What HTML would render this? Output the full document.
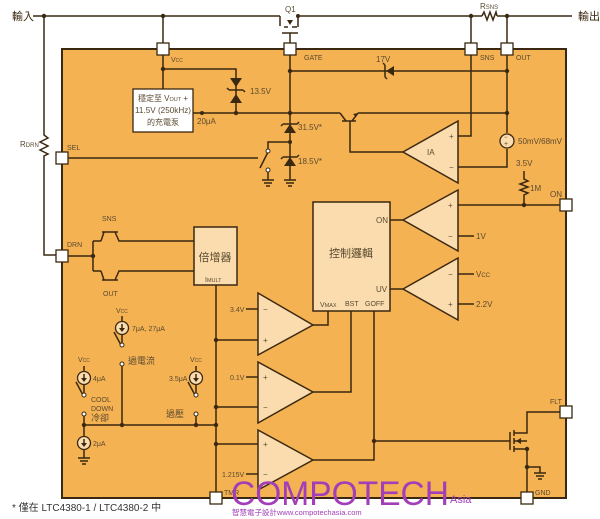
<!DOCTYPE html>
<html><head><meta charset="utf-8"><style>
html,body{margin:0;padding:0;background:#fff}
svg{display:block}
text{font-family:"Liberation Sans","Noto Sans CJK TC",sans-serif;fill:#5a4a30}
.l{stroke:#3a2810;stroke-width:1.5;fill:none}
.d{fill:#3a2810}
.amp{fill:#fbdcae;stroke:#3a2810;stroke-width:1.5}
.pin{fill:#fff;stroke:#3a2810;stroke-width:1.3}
.s{font-size:8px}
.c{font-size:11px;fill:#3a2810}
</style></head><body>
<svg width="600" height="519" viewBox="0 0 600 519" xmlns="http://www.w3.org/2000/svg">
<rect x="62" y="49" width="504" height="449" fill="#f5b252" stroke="#3a2810" stroke-width="2"/>
<text x="12" y="20" class="c">輸入</text>
<text x="578" y="20" class="c">輸出</text>
<path class="l" d="M33 16H280 M300 16H482 M497 16H572"/>
<path class="l" d="M482 16l2-4 3 8 3-8 3 8 3-8 1 4"/>
<text x="480" y="9" class="s">R<tspan font-size="6">SNS</tspan></text>
<circle class="d" cx="44" cy="16" r="2.2"/><circle class="d" cx="163" cy="16" r="2.2"/>
<circle class="d" cx="471" cy="16" r="2.2"/><circle class="d" cx="507" cy="16" r="2.2"/><circle class="d" cx="298" cy="16" r="2"/>
<text x="285" y="12" class="s">Q1</text>
<path class="l" d="M280 16v10 M284 27h4 M292 27h5 M298 16v11 M282 33h16 M290 33v16"/>
<path class="d" d="M287 20h6l-3 5z"/>
<path class="l" d="M44 16V135l4 3-8 4 8 4-8 4 8 4-4 2V255H62"/>
<text x="20" y="147" class="s">R<tspan font-size="6">DRN</tspan></text>
<path class="l" d="M471 16V136H458 M507 16V133 M507 149V167H458"/>
<circle cx="507" cy="141" r="7" fill="#fbdcae" stroke="#3a2810" stroke-width="1.3"/>
<text x="504" y="139" font-size="6">−</text><text x="504" y="146" font-size="7">+</text>
<text x="518" y="144" class="s">50mV/68mV</text>
<path class="l" d="M163 16V89 M163 69H236V113 M193 113H340 M290 49V180 M290 71H507 M358 113H507"/>
<circle class="d" cx="163" cy="69" r="2.2"/><circle class="d" cx="236" cy="113" r="2.2"/><circle class="d" cx="202" cy="113" r="2"/>
<circle class="d" cx="290" cy="71" r="2.2"/><circle class="d" cx="290" cy="113" r="2.2"/><circle class="d" cx="507" cy="71" r="2.2"/><circle class="d" cx="507" cy="113" r="2.2"/>
<path class="d" d="M230 78h12l-6 9z M230 103h12l-6-9z"/><path class="l" d="M229 90h14 M229 90l-2-2 M243 90l2 2"/>
<text x="250" y="94" class="s">13.5V</text>
<path class="d" d="M386 71l8-5v10z"/><path class="l" d="M385 65v12 M385 65l-2-2 M385 77l2 2"/>
<text x="376" y="62" class="s">17V</text>
<rect x="133" y="89" width="60" height="43" fill="#fff" stroke="#3a2810" stroke-width="1.3"/>
<text x="163" y="101" text-anchor="middle" font-size="8" fill="#3a2810">穩定至 V<tspan font-size="5.5">OUT</tspan> +</text>
<text x="163" y="113" text-anchor="middle" font-size="8" fill="#3a2810" textLength="56" lengthAdjust="spacingAndGlyphs">11.5V (250kHz)</text>
<text x="163" y="125" text-anchor="middle" font-size="8" fill="#3a2810">的充電泵</text>
<text x="197" y="124" class="s">20μA</text>
<path class="d" d="M284 133h12l-6-9z M284 166h12l-6-9z"/>
<path class="l" d="M283 124h14 M297 124l2-2 M283 124l-2 2 M283 157h14 M297 157l2-2 M283 157l-2 2"/>
<circle class="d" cx="290" cy="142" r="2"/>
<text x="298" y="130" class="s">31.5V*</text><text x="298" y="164" class="s">18.5V*</text>
<path class="l" d="M284 180h12 M286 183h8 M288 186h4"/>
<path class="l" d="M62 158H258 M290 142H268V150 M268 152l-8 16 M268 172v8 M262 180h12 M264 183h8 M266 186h4"/>
<circle cx="268" cy="151" r="2" fill="#fff" stroke="#3a2810"/><circle cx="268" cy="170" r="2" fill="#fff" stroke="#3a2810"/>
<!-- NPN transistor -->
<path class="l" d="M340 113l6 8 M342 121h14 M350 121v31H403 M352 121l6-8"/>
<path class="d" d="M358 113l-5 1 3 3z"/>
<path class="amp" d="M403 152L458 121V183Z"/>
<text x="427" y="155" class="s">IA</text><text x="449" y="139" class="s">+</text><text x="449" y="170" class="s">−</text>
<text x="516" y="166" class="s">3.5V</text>
<path class="l" d="M524 171v8l4 2-8 3 8 3-8 3 8 3-4 2v10"/>
<text x="530" y="191" class="s">1M</text>
<path class="l" d="M458 205H566 M458 236H474 M458 274H474 M458 304H474"/>
<circle class="d" cx="524" cy="205" r="2.2"/>
<text x="550" y="197" class="s">ON</text>
<text x="476" y="239" class="s">1V</text><text x="476" y="277" class="s">V<tspan font-size="6">CC</tspan></text><text x="476" y="307" class="s">2.2V</text>
<path class="amp" d="M403 220L458 190V251Z"/><path class="amp" d="M403 289L458 258V320Z"/>
<text x="448" y="208" class="s">+</text><text x="448" y="239" class="s">−</text><text x="448" y="277" class="s">−</text><text x="448" y="307" class="s">+</text>
<path class="l" d="M390 220H403 M390 289H403"/>
<rect x="313" y="202" width="77" height="109" fill="#fbdcae" stroke="#3a2810" stroke-width="1.5"/>
<text x="351" y="257" text-anchor="middle" font-size="11" fill="#3a2810">控制邏輯</text>
<text x="376" y="223" class="s">ON</text><text x="376" y="292" class="s">UV</text>
<text x="320" y="307" font-size="7">V<tspan font-size="5.5">MAX</tspan></text><text x="345" y="306" font-size="7">BST</text><text x="365" y="306" font-size="7">GOFF</text>
<path class="l" d="M313 325H328V311 M313 392H351V311 M313 460H374V311 M374 441H510"/>
<circle class="d" cx="374" cy="441" r="2.2"/>
<path class="amp" d="M313 325L258 293V355Z"/><path class="amp" d="M313 392L258 362V423Z"/><path class="amp" d="M313 460L258 430V490Z"/>
<text x="263" y="312" class="s">−</text><text x="263" y="343" class="s">+</text><text x="263" y="380" class="s">+</text><text x="263" y="410" class="s">−</text><text x="263" y="447" class="s">+</text><text x="263" y="477" class="s">−</text>
<path class="l" d="M246 309H258 M246 377H258 M246 474H258 M216 340H258 M216 407H258 M216 444H258"/>
<text x="230" y="312" font-size="7">3.4V</text><text x="230" y="380" font-size="7">0.1V</text><text x="222" y="477" font-size="7">1.215V</text>
<rect x="194" y="227" width="43" height="58" fill="#fbdcae" stroke="#3a2810" stroke-width="1.5"/>
<text x="215" y="261" text-anchor="middle" font-size="11" fill="#3a2810">倍增器</text>
<text x="205" y="282" font-size="7">I<tspan font-size="5.5">MULT</tspan></text>
<path class="l" d="M216 285V498"/>
<circle class="d" cx="216" cy="340" r="2.2"/><circle class="d" cx="216" cy="407" r="2.2"/><circle class="d" cx="216" cy="425" r="2.2"/><circle class="d" cx="216" cy="444" r="2.2"/>
<text x="224" y="495" font-size="7">TMR</text>
<path class="l" d="M62 256H93 M93 241V271 M93 241h8 M93 271h8 M102 232h16 M102 280h16 M101 241l3-9 M115 232l4 9H194 M101 271l3 9 M115 280l4-9H194"/>
<circle class="d" cx="93" cy="256" r="2.2"/>
<text x="102" y="221" font-size="7">SNS</text><text x="103" y="296" font-size="7">OUT</text>
<text x="67" y="247" font-size="7">DRN</text><text x="67" y="150" font-size="7">SEL</text>
<g font-size="7">
<text x="116" y="313">V<tspan font-size="5">CC</tspan></text><text x="78" y="362">V<tspan font-size="5">CC</tspan></text><text x="190" y="362">V<tspan font-size="5">CC</tspan></text>
<text x="132" y="331">7μA, 27μA</text><text x="93" y="381">4μA</text><text x="169" y="381">3.5μA</text><text x="93" y="446">2μA</text>
<text x="91" y="402">COOL</text><text x="91" y="411">DOWN</text>
</g>
<text x="91" y="421" font-size="9" fill="#3a2810">冷卻</text>
<text x="128" y="364" font-size="9" fill="#3a2810">過電流</text>
<text x="166" y="417" font-size="9" fill="#3a2810">過壓</text>
<path class="l" d="M122 316V343 M122 347l-8 -15 M122 366V425 M84 366V393 M84 397l-8-15 M84 416V425 M84 425V458 M196 366V393 M196 397l-8-15 M196 416V425 M84 425H216 M78 458h12 M80 461h8 M82 464h4"/>
<circle cx="122" cy="328" r="6.5" fill="#fbdcae" stroke="#3a2810" stroke-width="1.3"/><circle cx="84" cy="378" r="6.5" fill="#fbdcae" stroke="#3a2810" stroke-width="1.3"/><circle cx="196" cy="378" r="6.5" fill="#fbdcae" stroke="#3a2810" stroke-width="1.3"/><circle cx="84" cy="443" r="6.5" fill="#fbdcae" stroke="#3a2810" stroke-width="1.3"/>
<path class="d" d="M119 328h6l-3 4z M81 378h6l-3 4z M193 378h6l-3 4z M81 443h6l-3 4z"/>
<path class="l" d="M122 324v5 M84 374v5 M196 374v5 M84 439v5"/>
<circle cx="122" cy="345" r="2" fill="#fff" stroke="#3a2810"/><circle cx="122" cy="364" r="2" fill="#fff" stroke="#3a2810"/>
<circle cx="84" cy="395" r="2" fill="#fff" stroke="#3a2810"/><circle cx="84" cy="414" r="2" fill="#fff" stroke="#3a2810"/>
<circle cx="196" cy="395" r="2" fill="#fff" stroke="#3a2810"/><circle cx="196" cy="414" r="2" fill="#fff" stroke="#3a2810"/>
<circle class="d" cx="84" cy="425" r="2.2"/><circle class="d" cx="122" cy="425" r="2.2"/><circle class="d" cx="196" cy="425" r="2.2"/>
<path class="l" d="M510 432v18 M514 430v6 M514 438v6 M514 446v6 M514 433H527V412H566 M514 449H527V498 M514 441H527 M527 467H540V473 M534 473h12 M536 476h8 M538 479h4"/>
<path class="d" d="M516 441l5-3v6z"/>
<circle class="d" cx="527" cy="449" r="2.2"/><circle class="d" cx="527" cy="467" r="2.2"/>
<text x="550" y="404" font-size="7">FLT</text><text x="535" y="495" font-size="7">GND</text>
<text x="304" y="60" font-size="7">GATE</text><text x="480" y="60" font-size="7">SNS</text><text x="516" y="60" font-size="7">OUT</text>
<text x="171" y="62" font-size="7">V<tspan font-size="5">CC</tspan></text>
<rect class="pin" x="157" y="43" width="12" height="12"/><rect class="pin" x="284" y="43" width="12" height="12"/>
<rect class="pin" x="465" y="43" width="12" height="12"/><rect class="pin" x="501" y="43" width="12" height="12"/>
<rect class="pin" x="56" y="152" width="12" height="12"/><rect class="pin" x="56" y="250" width="12" height="12"/>
<rect class="pin" x="560" y="199" width="12" height="12"/><rect class="pin" x="560" y="406" width="12" height="12"/>
<rect class="pin" x="210" y="492" width="12" height="12"/><rect class="pin" x="521" y="492" width="12" height="12"/>
<text x="231" y="505" font-size="34" style="fill:#a23fb8" textLength="218" lengthAdjust="spacingAndGlyphs">COMPOTECH</text>
<text x="450" y="503" font-size="11" style="fill:#a23fb8">Asia</text>
<text x="232" y="515" font-size="7.5" style="fill:#a23fb8">智慧電子設計www.compotechasia.com</text>
<text x="12" y="511" font-size="10" style="fill:#333">* 僅在 LTC4380-1 / LTC4380-2 中</text>
</svg>
</body></html>
